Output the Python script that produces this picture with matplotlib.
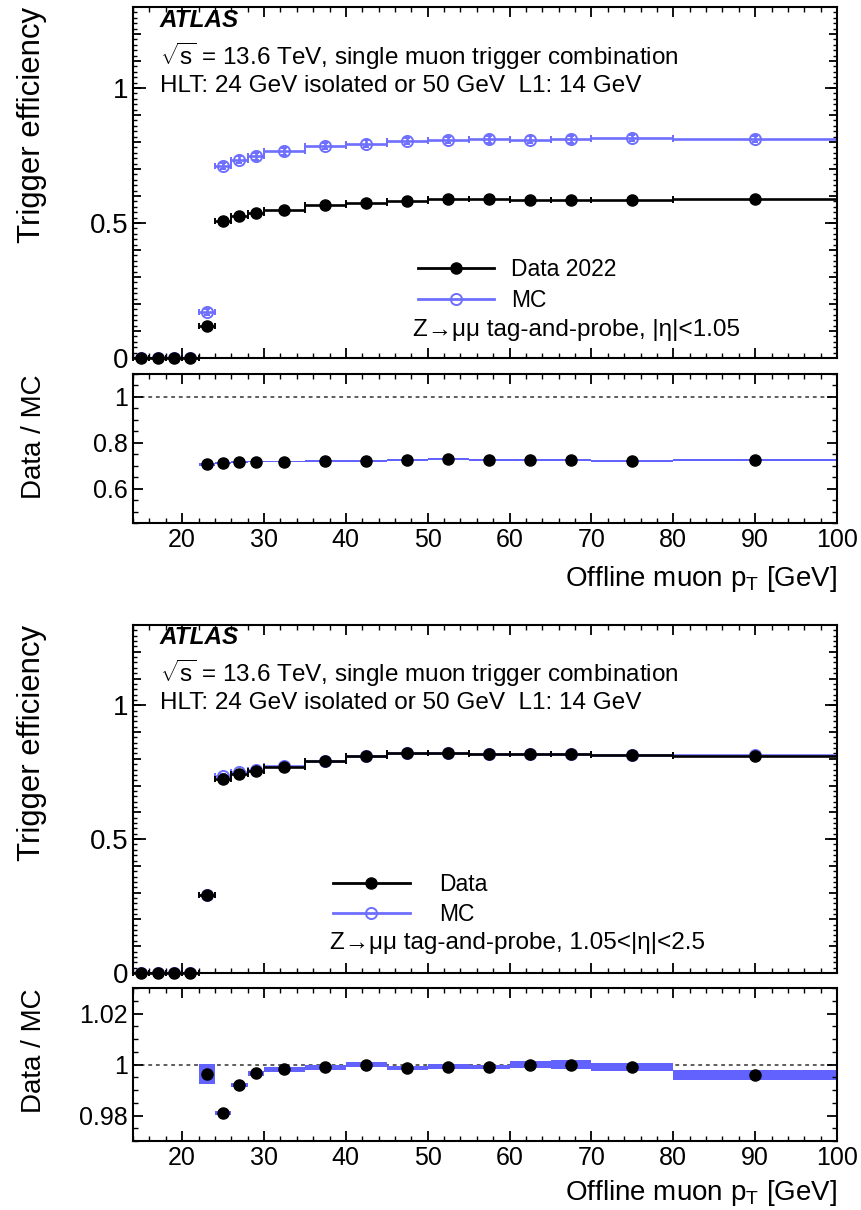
import numpy as np
import matplotlib
matplotlib.use("Agg")
import matplotlib.pyplot as plt
from matplotlib.lines import Line2D
from matplotlib.ticker import MultipleLocator, FuncFormatter, NullLocator

SANS = ['Liberation Sans', 'DejaVu Sans']
plt.rcParams['font.family'] = SANS
plt.rcParams['mathtext.fontset'] = 'custom'
plt.rcParams['mathtext.rm'] = 'Liberation Sans'
plt.rcParams['mathtext.it'] = 'Liberation Sans:italic'
plt.rcParams['mathtext.bf'] = 'Liberation Sans:bold'

# Offline muon pT binning [GeV]
pt_edges = np.array([14, 16, 18, 20, 22, 24, 26, 28, 30, 35, 40, 45, 50, 55,
                     60, 65, 70, 80, 100], dtype=float)

# Barrel, |eta| < 1.05 (Data 2022)
eff_data_barrel = np.array([0.0, 0.0, 0.0, 0.0, 0.120, 0.506, 0.526, 0.537, 0.550,
                            0.565, 0.574, 0.583, 0.589, 0.588, 0.587, 0.587, 0.587, 0.589])
err_data_barrel = np.array([0.002, 0.002, 0.002, 0.002, 0.006, 0.004, 0.004, 0.004, 0.003,
                            0.003, 0.003, 0.003, 0.003, 0.003, 0.003, 0.003, 0.003, 0.003])
err_mc_barrel = np.array([0.002, 0.002, 0.002, 0.002, 0.012, 0.012, 0.012, 0.012, 0.012,
                          0.012, 0.012, 0.012, 0.012, 0.012, 0.012, 0.012, 0.012, 0.012])
ratio_barrel = np.array([np.nan, np.nan, np.nan, np.nan, 0.707, 0.711, 0.716, 0.719, 0.719,
                         0.720, 0.723, 0.726, 0.729, 0.726, 0.726, 0.725, 0.720, 0.726])
ratio_err_barrel = np.array([np.nan, np.nan, np.nan, np.nan, 0.006, 0.004, 0.004, 0.004, 0.004,
                             0.004, 0.004, 0.004, 0.004, 0.004, 0.004, 0.004, 0.004, 0.004])

# Endcap, 1.05 < |eta| < 2.5
eff_data_endcap = np.array([0.0, 0.0, 0.0, 0.0, 0.291, 0.723, 0.745, 0.754, 0.770,
                            0.792, 0.812, 0.820, 0.822, 0.817, 0.817, 0.817, 0.815, 0.811])
err_data_endcap = np.array([0.002, 0.002, 0.002, 0.002, 0.004, 0.004, 0.003, 0.003, 0.003,
                            0.003, 0.003, 0.003, 0.003, 0.003, 0.003, 0.003, 0.003, 0.003])
err_mc_endcap = np.array([0.002, 0.002, 0.002, 0.002, 0.008, 0.008, 0.008, 0.008, 0.008,
                          0.008, 0.008, 0.008, 0.008, 0.008, 0.008, 0.008, 0.008, 0.008])
ratio_endcap = np.array([np.nan, np.nan, np.nan, np.nan, 0.9963, 0.9810, 0.9920, 0.9966, 0.9981,
                         0.9990, 1.0000, 0.9987, 0.9992, 0.9991, 0.9999, 1.0000, 0.9990, 0.9960])
ratio_err_endcap = np.array([np.nan, np.nan, np.nan, np.nan, 0.0038, 0.0007, 0.0008, 0.0009, 0.0009,
                             0.0010, 0.0010, 0.0007, 0.0009, 0.0009, 0.0013, 0.0018, 0.0017, 0.0020])

BLUE = '#6e6eff'
BAND = '#6262ff'
TICK_FS = 18
LABEL_FS = 20
TEXT_FS = 17.5
LEG_FS = 16.5


def mc_from_ratio(data, ratio):
    return np.divide(data, ratio, out=np.zeros_like(data), where=np.isfinite(ratio))


def frame(ax):
    for s in ax.spines.values():
        s.set_linewidth(1.5)
    ax.set_xlim(pt_edges[0], pt_edges[-1])
    ax.xaxis.set_major_locator(MultipleLocator(10))
    ax.xaxis.set_minor_locator(MultipleLocator(2))
    ax.tick_params(which='both', direction='in', top=True, right=True)
    ax.tick_params(which='major', length=7.5, width=1.3, labelsize=TICK_FS)
    ax.tick_params(which='minor', length=3.5, width=1.0)


def long_ticks(ax, positions, length):
    for side in ('left', 'right'):
        sec = ax.secondary_yaxis(side)
        sec.set_yticks(positions)
        sec.yaxis.set_minor_locator(NullLocator())
        sec.tick_params(direction='in', length=length, width=1.3,
                        labelleft=False, labelright=False)
        for s in sec.spines.values():
            s.set_visible(False)


def draw(fig, y_eff, y_rat, data, data_err, mc_err, ratio, ratio_err,
         data_label, region_text, leg_anchor, leg_handlelen, leg_pad,
         region_xy, rat_ylim, rat_major, rat_minor, xlabel_y):
    left, width = 0.1545, 0.8177
    ax = fig.add_axes([left, y_eff[0], width, y_eff[1]])
    axr = fig.add_axes([left, y_rat[0], width, y_rat[1]], sharex=ax)

    centers = 0.5 * (pt_edges[1:] + pt_edges[:-1])
    half = 0.5 * np.diff(pt_edges)
    mc = mc_from_ratio(data, ratio)

    ax.errorbar(centers, mc, xerr=half, yerr=mc_err, fmt='o', ms=8, mfc='none',
                mec=BLUE, mew=1.4, ecolor=BLUE, elinewidth=1.9, capsize=2.2,
                capthick=1.4, zorder=2)
    ax.errorbar(centers, data, xerr=half, yerr=data_err, fmt='o', ms=8,
                color='black', ecolor='black', elinewidth=1.9, capsize=2.2,
                capthick=1.4, zorder=3, clip_on=False)

    ax.set_ylim(0, 1.3)
    frame(ax)
    ax.yaxis.set_major_locator(MultipleLocator(0.1))
    ax.yaxis.set_minor_locator(MultipleLocator(0.02))
    ax.yaxis.set_major_formatter(FuncFormatter(
        lambda v, _: f'{v:g}' if abs(v * 2 - round(v * 2)) < 1e-6 else ''))
    ax.tick_params(axis='y', which='major', length=5.5, labelsize=20)
    ax.tick_params(axis='y', which='minor', length=3)
    long_ticks(ax, [0.0, 0.5, 1.0], 9)
    ax.tick_params(axis='x', labelbottom=False)
    ax.set_ylabel('Trigger efficiency', fontsize=22.4, loc='top')
    ax.yaxis.set_label_coords(-0.122, 1.0)

    ax.text(0.038, 0.963, 'ATLAS', transform=ax.transAxes, fontsize=TEXT_FS,
            fontweight='bold', fontstyle='italic', va='center', ha='left')
    ax.text(0.038, 0.860, r'$\sqrt{\mathrm{s}}$ = 13.6 TeV, single muon trigger combination',
            transform=ax.transAxes, fontsize=TEXT_FS, va='center', ha='left')
    ax.text(0.038, 0.775, 'HLT: 24 GeV isolated or 50 GeV  L1: 14 GeV',
            transform=ax.transAxes, fontsize=TEXT_FS, va='center', ha='left')

    h_data = Line2D([], [], color='black', lw=2, marker='o', ms=8)
    h_mc = Line2D([], [], color=BLUE, lw=2, marker='o', ms=8, mfc='none', mew=1.4)
    ax.legend([h_data, h_mc], [data_label, 'MC'], loc='center left',
              bbox_to_anchor=leg_anchor, frameon=False, fontsize=LEG_FS,
              handlelength=leg_handlelen, handletextpad=leg_pad,
              labelspacing=0.31, borderpad=0, borderaxespad=0)
    ax.text(region_xy[0], region_xy[1], region_text, transform=ax.transAxes,
            fontsize=TEXT_FS, va='center', ha='left')

    # ratio panel: uncertainty band around the ratio, dashed unity line, points
    valid = np.isfinite(ratio)
    first = int(np.argmax(valid))
    axr.stairs(ratio[valid] + ratio_err[valid], pt_edges[first:],
               baseline=ratio[valid] - ratio_err[valid], fill=True,
               color=BAND, lw=0, zorder=1)
    axr.axhline(1.0, color='#333333', lw=1.1, ls=(0, (2.5, 2.5)), zorder=0)
    axr.plot(centers[valid], ratio[valid], 'o', ms=8, color='black', zorder=3)
    axr.set_ylim(*rat_ylim)
    frame(axr)
    axr.yaxis.set_major_locator(MultipleLocator(rat_major))
    axr.yaxis.set_minor_locator(MultipleLocator(rat_minor))
    axr.yaxis.set_major_formatter(FuncFormatter(lambda v, _: f'{round(v, 4):g}'))
    axr.set_ylabel('Data / MC', fontsize=20, loc='top')
    axr.yaxis.set_label_coords(-0.122, 1.0)
    axr.set_xlabel(r'Offline muon p$_{\mathrm{T}}$ [GeV]', fontsize=LABEL_FS, loc='right')
    axr.xaxis.set_label_coords(1.0, xlabel_y)
    return ax, axr


fig = plt.figure(figsize=(8.61, 12.10), dpi=100)

draw(fig, (0.7041, 0.2901), (0.5674, 0.1236),
     eff_data_barrel, err_data_barrel, err_mc_barrel, ratio_barrel, ratio_err_barrel,
     'Data 2022', 'Z→μμ tag-and-probe, |η|<1.05',
     (0.405, 0.208), 3.3, 0.74, (0.398, 0.080),
     (0.45, 1.1), 0.2, 0.05, -0.27)

draw(fig, (0.1959, 0.2876), (0.0570, 0.1264),
     eff_data_endcap, err_data_endcap, err_mc_endcap, ratio_endcap, ratio_err_endcap,
     'Data', 'Z→μμ tag-and-probe, 1.05<|η|<2.5',
     (0.284, 0.210), 3.35, 1.3, (0.280, 0.086),
     (0.97, 1.03), 0.02, 0.005, -0.24)

fig.savefig('out.png', dpi=100)
